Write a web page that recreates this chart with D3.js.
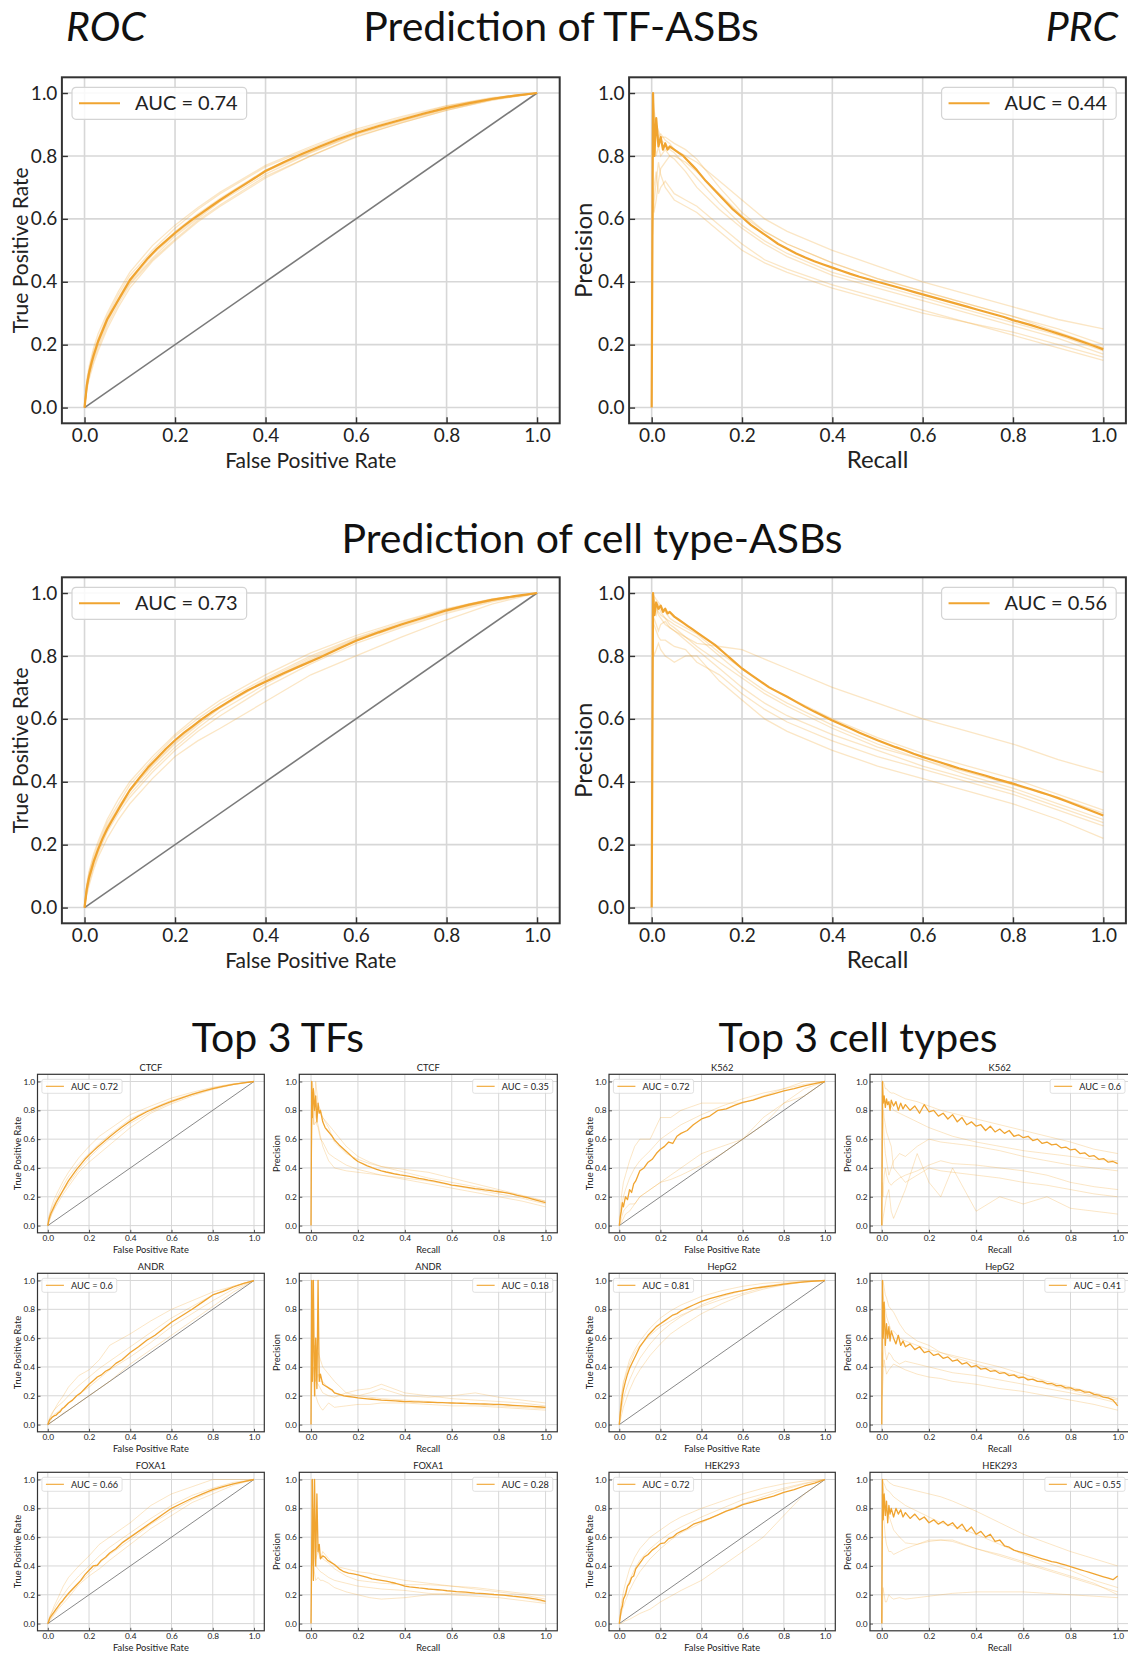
<!DOCTYPE html>
<html>
<head>
<meta charset="utf-8">
<script src="https://cdnjs.cloudflare.com/ajax/libs/d3/7.8.5/d3.min.js"></script>
<style>
  body { margin: 0; background: #fff; }
  svg { display: block; font-family: Lato, "Open Sans", sans-serif; }
</style>
</head>
<body>
<div id="chart"></div>
<script>
// ROC / PRC curves: mean curve (bold) + a few individual folds (faint)

// x grids the curves were read at
const rocGrid = [0, .005, .01, .02, .03, .05, .075, .1, .15, .2, .25, .3, .4, .5, .6, .7, .8, .9, 1];
const rocFine = [0, .005, .01, .015, .02, .03, .04, .05, .06, .07, .08, .1, .12, .14, .16, .18, .2, .22, .24, .26, .28, .3, .33, .36, .4, .44, .48, .52, .56, .6, .65, .7, .75, .8, .85, .9, .95, 1];
const prGrid = [0, .002, .005, .01, .015, .02, .03, .04, .05, .075, .1, .15, .2, .25, .3, .4, .5, .6, .7, .8, .9, 1];
const prFine = [0, .003, .006, .01, .015, .02, .025, .03, .035, .04, .05, .06, .07, .08, .09, .1, .12, .14, .16, .18, .2, .22, .24, .26, .28, .3, .32, .34, .36, .38, .4, .42, .44, .46, .48, .5, .52, .54, .56, .58, .6, .62, .64, .66, .68, .7, .72, .74, .76, .78, .8, .82, .84, .86, .88, .9, .92, .94, .96, .98, 1];

const axisTicks = [0, 0.2, 0.4, 0.6, 0.8, 1.0];

// --- Prediction of TF-ASBs
const tfRocMean = [0, .07, .11, .14, .165, .21, .245, .28, .305, .33, .355, .405, .44, .475, .505, .53, .555, .578, .6, .62, .64, .66, .688, .715, .752, .78, .806, .83, .853, .873, .895, .915, .935, .953, .968, .981, .992, 1];
const tfRocFolds = [
  [0, .08, .12, .18, .22, .29, .36, .42, .5, .57, .63, .68, .765, .825, .88, .92, .958, .984, 1],
  [0, .06, .1, .15, .19, .26, .33, .39, .47, .535, .595, .645, .735, .8, .86, .905, .945, .978, 1],
  [0, .075, .115, .17, .215, .285, .35, .41, .49, .56, .615, .665, .755, .815, .872, .915, .952, .982, 1],
  [0, .065, .105, .16, .2, .27, .34, .395, .475, .545, .6, .655, .742, .81, .868, .91, .95, .98, 1],
  [0, .09, .13, .19, .235, .3, .37, .43, .515, .58, .635, .685, .77, .83, .885, .925, .96, .985, 1],
  [0, .055, .09, .14, .18, .25, .32, .38, .465, .53, .59, .64, .73, .8, .862, .905, .946, .977, 1],
  [0, .07, .11, .165, .21, .28, .345, .4, .485, .55, .605, .66, .75, .812, .87, .912, .95, .981, 1]
];
const tfPrcMean = [0, 1, .8, .92, .83, .86, .82, .84, .82, .83, .82, .81, .8, .785, .77, .755, .72, .69, .66, .63, .605, .58, .56, .54, .52, .505, .49, .477, .465, .455, .445, .435, .425, .416, .408, .4, .392, .384, .376, .368, .36, .352, .344, .336, .328, .32, .312, .304, .296, .288, .278, .27, .262, .253, .244, .235, .226, .216, .206, .196, .185];
const tfPrcFolds = [
  [null, 1, .9, .88, .86, .87, .85, .84, .82, .8, .78, .72, .66, .6, .56, .5, .45, .4, .36, .32, .28, .25],
  [null, .6, .7, .75, .68, .7, .72, .7, .68, .66, .64, .58, .52, .47, .44, .39, .35, .31, .27, .24, .2, .16],
  [null, .8, .85, .8, .83, .8, .82, .8, .8, .78, .75, .68, .61, .56, .52, .46, .41, .37, .33, .29, .24, .19],
  [null, 1, .95, .9, .86, .85, .84, .82, .81, .77, .73, .65, .58, .53, .49, .43, .39, .35, .31, .27, .23, .18],
  [null, .7, .62, .66, .72, .76, .78, .8, .79, .75, .7, .63, .57, .52, .48, .42, .38, .34, .3, .26, .22, .17],
  [null, .55, .65, .72, .78, .74, .7, .68, .66, .64, .62, .56, .5, .46, .43, .38, .34, .3, .27, .23, .19, .15],
  [null, 1, .92, .9, .88, .86, .86, .85, .84, .82, .79, .7, .62, .56, .52, .46, .41, .37, .33, .29, .25, .2]
];

// --- Prediction of cell type-ASBs
const cellRocMean = [0, .06, .095, .12, .145, .185, .22, .25, .275, .3, .325, .373, .41, .445, .475, .505, .532, .556, .578, .6, .62, .638, .665, .69, .718, .745, .77, .795, .822, .848, .875, .9, .922, .945, .963, .978, .99, 1];
const cellRocFolds = [
  [0, .07, .11, .16, .2, .27, .33, .39, .47, .545, .6, .65, .73, .8, .858, .905, .948, .98, 1],
  [0, .05, .08, .13, .17, .24, .3, .35, .43, .5, .56, .61, .7, .775, .84, .89, .935, .972, 1],
  [0, .04, .07, .12, .16, .22, .28, .33, .41, .48, .53, .57, .655, .74, .8, .86, .915, .965, 1],
  [0, .065, .1, .15, .19, .26, .32, .375, .455, .525, .585, .64, .725, .795, .855, .9, .945, .978, 1],
  [0, .075, .115, .17, .21, .28, .345, .4, .48, .55, .61, .66, .74, .81, .865, .91, .95, .981, 1],
  [0, .055, .09, .14, .18, .25, .31, .36, .44, .51, .57, .625, .71, .785, .848, .895, .94, .975, 1],
  [0, .06, .095, .145, .185, .255, .315, .37, .45, .52, .58, .635, .72, .79, .852, .9, .944, .977, 1]
];
const cellPrcMean = [0, 1, .93, .97, .95, .96, .94, .95, .935, .94, .925, .915, .905, .895, .885, .875, .855, .835, .81, .785, .76, .74, .72, .70, .685, .67, .654, .638, .623, .609, .595, .582, .569, .556, .544, .532, .521, .51, .5, .489, .479, .47, .461, .452, .443, .435, .427, .419, .41, .402, .394, .385, .376, .367, .358, .348, .337, .326, .315, .304, .293];
const cellPrcFolds = [
  [null, 1, .97, .95, .93, .92, .9, .89, .88, .86, .84, .83, .82, .79, .76, .7, .65, .6, .56, .52, .47, .43],
  [null, .85, .8, .82, .84, .82, .8, .79, .78, .8, .8, .72, .66, .6, .56, .5, .45, .41, .37, .33, .28, .22],
  [null, 1, .98, .96, .94, .93, .92, .91, .9, .88, .86, .8, .74, .69, .65, .58, .52, .47, .43, .39, .35, .3],
  [null, .9, .92, .9, .88, .9, .91, .89, .88, .85, .82, .76, .7, .65, .61, .55, .5, .45, .41, .37, .32, .27],
  [null, 1, .95, .93, .96, .94, .92, .9, .89, .86, .83, .78, .73, .68, .64, .57, .51, .47, .42, .38, .33, .28],
  [null, .95, .9, .88, .86, .85, .85, .84, .83, .82, .78, .74, .68, .63, .59, .53, .48, .44, .4, .36, .31, .26],
  [null, 1, .99, .98, .97, .96, .94, .92, .91, .89, .87, .81, .76, .71, .67, .6, .54, .49, .45, .41, .36, .31]
];

// --- Top 3 TFs
const ctcfRocMean = [0, .04, .065, .085, .1, .13, .16, .185, .21, .235, .26, .31, .35, .39, .425, .46, .49, .517, .543, .568, .593, .617, .651, .684, .725, .76, .79, .815, .84, .862, .887, .91, .932, .95, .966, .98, .991, 1];
const ctcfRocFolds = [
  [0, .06, .09, .14, .18, .24, .31, .37, .47, .55, .62, .67, .77, .83, .885, .925, .96, .985, 1],
  [0, .03, .05, .08, .11, .16, .22, .27, .37, .44, .5, .56, .68, .78, .845, .9, .945, .978, 1],
  [0, .05, .08, .12, .15, .21, .28, .34, .43, .5, .57, .63, .74, .81, .87, .915, .955, .982, 1],
  [0, .02, .04, .09, .12, .18, .24, .29, .39, .47, .54, .6, .71, .79, .855, .91, .95, .98, 1]
];
const ctcfPrcMean = [0, 1, .75, .95, .8, .9, .72, .85, .78, .8, .72, .68, .66, .64, .62, .595, .56, .53, .5, .47, .445, .43, .415, .402, .39, .38, .372, .365, .358, .352, .347, .341, .335, .328, .322, .315, .31, .304, .297, .289, .281, .277, .272, .267, .262, .257, .253, .248, .244, .239, .235, .23, .225, .218, .21, .203, .195, .186, .177, .168, .16];
const ctcfPrcFolds = [
  [null, 1, .9, .7, .8, 1, .85, .8, .75, .68, .58, .5, .46, .43, .41, .39, .37, .33, .29, .25, .21, .17],
  [null, .5, .7, .9, .85, .75, .7, .62, .55, .45, .4, .38, .37, .36, .35, .33, .31, .28, .25, .22, .19, .15],
  [null, 1, 1, .95, .9, .85, .8, .78, .75, .7, .65, .55, .48, .44, .41, .37, .33, .3, .27, .24, .2, .17],
  [null, .8, .9, .75, .7, .72, .68, .6, .58, .5, .47, .42, .39, .37, .35, .32, .29, .26, .23, .2, .17, .13]
];
const andrRocMean = [0, .02, .035, .04, .05, .06, .065, .08, .09, .11, .12, .15, .17, .2, .22, .25, .28, .305, .33, .345, .37, .385, .425, .45, .5, .54, .585, .62, .665, .71, .755, .8, .85, .9, .925, .955, .98, 1];
const andrRocFolds = [
  [0, .02, .04, .07, .1, .15, .2, .26, .34, .38, .45, .55, .63, .72, .8, .86, .92, .96, 1],
  [0, 0, .01, .02, .03, .05, .08, .1, .15, .2, .25, .3, .42, .52, .62, .72, .82, .92, 1],
  [0, .03, .05, .08, .1, .13, .16, .2, .27, .33, .39, .44, .54, .64, .74, .82, .9, .96, 1],
  [0, .01, .02, .05, .07, .09, .12, .15, .21, .26, .32, .38, .47, .57, .68, .77, .86, .94, 1]
];
const andrPrcMean = [0, 1, .3, 1, .2, .6, .25, 1, .3, .35, .28, .27, .26, .25, .24, .22, .21, .2, .195, .19, .185, .182, .179, .176, .173, .17, .168, .166, .164, .162, .16, .159, .158, .157, .156, .155, .154, .153, .152, .151, .15, .149, .148, .147, .146, .145, .144, .143, .142, .141, .14, .138, .136, .134, .132, .13, .128, .126, .124, .122, .12];
const andrPrcFolds = [
  [null, .5, 1, .6, .4, .3, .35, .3, .3, .25, .22, .2, .2, .22, .25, .2, .19, .2, .22, .19, .17, .15],
  [null, 1, .7, .5, .55, .4, .5, .45, .4, .35, .3, .22, .2, .19, .18, .17, .16, .15, .14, .13, .12, .11],
  [null, .2, .3, .4, .25, .2, .15, .12, .1, .15, .12, .13, .14, .14, .15, .15, .14, .13, .13, .12, .11, .1],
  [null, 1, .5, .65, .35, .3, .28, .25, .22, .2, .19, .22, .24, .25, .28, .22, .2, .18, .17, .16, .15, .13]
];
const foxa1RocMean = [0, .02, .04, .05, .06, .08, .1, .12, .14, .155, .175, .21, .24, .27, .3, .34, .37, .4, .405, .44, .46, .49, .52, .56, .6, .64, .68, .72, .76, .8, .835, .87, .9, .93, .95, .97, .985, 1];
const foxa1RocFolds = [
  [0, .02, .05, .08, .12, .18, .26, .32, .4, .47, .55, .6, .7, .82, .9, .95, 1, 1, 1],
  [0, .01, .02, .04, .06, .1, .14, .18, .27, .33, .38, .44, .55, .66, .75, .84, .9, .96, 1],
  [0, .03, .05, .08, .1, .15, .2, .25, .33, .4, .47, .53, .63, .73, .82, .89, .94, .98, 1],
  [0, .01, .03, .05, .07, .11, .16, .2, .28, .35, .42, .48, .58, .69, .78, .86, .92, .97, 1]
];
const foxa1PrcMean = [0, .5, 1, .3, 1, .4, .9, .5, .55, .45, .47, .46, .44, .43, .42, .41, .38, .36, .35, .345, .338, .33, .32, .31, .305, .3, .295, .287, .28, .27, .26, .255, .252, .248, .245, .24, .238, .235, .232, .228, .225, .222, .22, .218, .215, .212, .21, .208, .205, .202, .2, .197, .194, .19, .187, .184, .18, .175, .17, .163, .155];
const foxa1PrcFolds = [
  [null, 1, .6, .8, .5, .45, .5, .45, .5, .45, .4, .38, .36, .35, .33, .3, .28, .26, .25, .23, .21, .19],
  [null, .3, .6, .4, .35, .3, .32, .3, .3, .28, .25, .22, .2, .18, .17, .18, .2, .21, .21, .2, .18, .15],
  [null, 1, .9, .7, .6, .55, .5, .48, .45, .42, .38, .33, .3, .29, .28, .27, .27, .26, .24, .22, .2, .17],
  [null, .6, .4, .5, .45, .4, .38, .36, .35, .32, .3, .28, .26, .25, .24, .23, .21, .2, .19, .18, .16, .14]
];

// --- Top 3 cell types
const k562RocMean = [0, .06, .1, .16, .13, .2, .18, .25, .23, .29, .31, .38, .4, .44, .46, .5, .53, .55, .58, .57, .62, .64, .66, .7, .74, .76, .8, .81, .835, .855, .87, .895, .915, .935, .95, .97, .985, 1];
const k562RocFolds = [
  [0, .1, .2, .3, .35, .45, .55, .6, .6, .75, .75, .8, .85, .85, .85, .9, .95, 1, 1],
  [0, .02, .05, .1, .12, .15, .15, .2, .25, .3, .35, .4, .5, .55, .6, .7, .85, .95, 1],
  [0, .08, .12, .2, .25, .33, .4, .45, .52, .6, .65, .7, .77, .83, .88, .92, .95, .98, 1],
  [0, .01, .02, .05, .08, .1, .15, .2, .25, .3, .32, .35, .42, .5, .6, .75, .85, .9, 1]
];
const k562PrcMean = [0, 1, .85, .9, .82, .88, .84, .86, .8, .87, .83, .86, .8, .85, .81, .84, .8, .83, .78, .84, .79, .8, .76, .78, .74, .77, .72, .75, .7, .72, .69, .7, .66, .69, .65, .67, .64, .66, .62, .63, .61, .62, .59, .6, .57, .58, .56, .565, .54, .545, .525, .53, .5, .505, .48, .485, .46, .465, .44, .445, .43];
const k562PrcFolds = [
  [null, 1, 1, .98, .95, .95, .93, .92, .92, .9, .88, .86, .83, .8, .78, .74, .7, .66, .62, .58, .53, .5],
  [null, .4, .8, .6, .5, .45, .35, .4, .45, .5, .48, .55, .6, .58, .57, .55, .52, .48, .45, .42, .4, .38],
  [null, 0, .05, .1, .15, .2, .25, .1, .05, .15, .25, .5, .3, .2, .4, .1, .2, .15, .2, .12, .1, .08],
  [null, .9, .85, .75, .7, .65, .6, .55, .4, .35, .3, .35, .4, .38, .37, .35, .33, .3, .28, .25, .22, .2],
  [null, 1, .9, .88, .86, .85, .84, .83, .8, .78, .76, .72, .68, .65, .62, .58, .55, .52, .5, .48, .46, .45],
  [null, .3, .2, .35, .4, .35, .3, .28, .3, .33, .35, .38, .42, .45, .43, .42, .4, .38, .35, .3, .27, .25]
];
const hepg2RocMean = [0, .08, .14, .2, .24, .3, .35, .39, .42, .45, .48, .54, .58, .62, .65, .68, .7, .72, .74, .76, .77, .79, .81, .83, .855, .875, .89, .905, .92, .93, .945, .955, .965, .975, .983, .99, .995, 1];
const hepg2RocFolds = [
  [0, .1, .18, .28, .35, .45, .52, .58, .67, .74, .79, .83, .89, .93, .96, .98, .99, 1, 1],
  [0, .03, .06, .12, .16, .24, .32, .38, .48, .56, .63, .68, .77, .84, .9, .94, .97, .99, 1],
  [0, .06, .1, .18, .23, .31, .39, .46, .56, .64, .7, .75, .83, .89, .93, .96, .98, .995, 1],
  [0, .12, .2, .3, .33, .42, .5, .55, .62, .68, .72, .76, .82, .87, .91, .95, .97, .99, 1]
];
const hepg2PrcMean = [0, 1, .6, .85, .55, .7, .6, .68, .58, .65, .6, .56, .62, .55, .58, .54, .56, .52, .54, .5, .51, .48, .49, .46, .47, .44, .45, .42, .43, .4, .41, .385, .39, .37, .375, .355, .36, .34, .345, .325, .33, .31, .315, .3, .3, .285, .285, .27, .27, .255, .255, .24, .24, .225, .225, .21, .205, .19, .185, .17, .13];
const hepg2PrcFolds = [
  [null, 1, .9, .85, .8, .75, .7, .65, .65, .6, .58, .55, .52, .5, .48, .44, .4, .35, .3, .26, .22, .18],
  [null, .5, .4, .6, .5, .45, .5, .48, .45, .42, .44, .42, .4, .38, .36, .34, .31, .28, .25, .22, .19, .15],
  [null, 1, 1, .95, .9, .88, .82, .8, .78, .7, .64, .58, .55, .5, .47, .42, .37, .33, .28, .24, .2, .17],
  [null, .2, .3, .45, .4, .35, .38, .4, .42, .4, .38, .35, .33, .32, .3, .28, .25, .23, .2, .17, .14, .1]
];
const hek293RocMean = [0, .05, .1, .12, .17, .2, .26, .28, .32, .33, .38, .42, .46, .48, .51, .53, .555, .56, .59, .6, .625, .64, .66, .69, .71, .73, .755, .78, .8, .825, .845, .865, .885, .91, .93, .955, .975, 1];
const hek293RocFolds = [
  [0, .08, .14, .22, .28, .38, .46, .52, .6, .65, .7, .74, .8, .85, .9, .94, .97, .99, 1],
  [0, 0, 0, .01, .02, .03, .05, .07, .1, .15, .19, .23, .3, .4, .5, .6, .75, .9, 1],
  [0, .04, .07, .12, .16, .23, .3, .36, .45, .52, .58, .63, .7, .77, .83, .88, .93, .97, 1],
  [0, .06, .1, .17, .22, .3, .38, .44, .52, .58, .63, .67, .74, .8, .86, .9, .94, .975, 1]
];
const hek293PrcMean = [0, 1, .72, .9, .75, .85, .7, .82, .76, .8, .74, .8, .76, .79, .74, .77, .73, .76, .72, .74, .7, .72, .69, .71, .68, .7, .66, .69, .64, .67, .62, .64, .6, .62, .57, .58, .54, .53, .51, .5, .49, .48, .47, .46, .45, .44, .43, .425, .415, .405, .395, .385, .375, .365, .355, .345, .335, .325, .315, .305, .33];
const hek293PrcFolds = [
  [null, 1, 1, 1, 1, 1, .98, .97, .96, .95, .94, .92, .9, .88, .85, .78, .7, .62, .56, .5, .45, .4],
  [null, 0, .25, .2, .15, .15, .2, .18, .17, .18, .17, .18, .19, .2, .21, .22, .22, .22, .21, .2, .19, .18],
  [null, 1, .95, .9, .85, .8, .75, .7, .65, .6, .56, .55, .57, .58, .58, .52, .47, .42, .37, .32, .27, .22],
  [null, 1, .98, .97, .95, .93, .92, .9, .88, .85, .82, .78, .74, .7, .68, .62, .55, .48, .42, .37, .3, .25],
  [null, .9, .8, .7, .6, .55, .5, .5, .48, .5, .52, .55, .58, .58, .57, .52, .48, .43, .38, .33, .28, .2]
];

const smallNames = ["CTCF", "ANDR", "FOXA1", "K562", "HepG2", "HEK293"];
const smallRocAuc = ["0.72", "0.6", "0.66", "0.72", "0.81", "0.72"];
const smallPrcAuc = ["0.35", "0.18", "0.28", "0.6", "0.41", "0.55"];

// ---------------------------------------------------------------
const W = 1128, H = 1653;
const orange = "#f0a430";

const svg = d3.select("#chart").append("svg")
    .attr("width", W)
    .attr("height", H);

function drawPanel(p) {
    const big = p.big;
    const [l, t, r, b] = p.box;
    const x = d3.scaleLinear().domain([-0.05, 1.05]).range([l, r]);
    const y = d3.scaleLinear().domain([-0.05, 1.05]).range([b, t]);
    const g = svg.append("g");

    // grid
    g.selectAll(".gx").data(axisTicks).join("line")
        .attr("x1", d => x(d)).attr("x2", d => x(d))
        .attr("y1", t).attr("y2", b)
        .attr("stroke", "#d7d7d7").attr("stroke-width", big ? 1.6 : 1);
    g.selectAll(".gy").data(axisTicks).join("line")
        .attr("x1", l).attr("x2", r)
        .attr("y1", d => y(d)).attr("y2", d => y(d))
        .attr("stroke", "#d7d7d7").attr("stroke-width", big ? 1.6 : 1);

    // chance diagonal for ROC
    if (p.kind === "roc") {
        g.append("line")
            .attr("x1", x(0)).attr("y1", y(0))
            .attr("x2", x(1)).attr("y2", y(1))
            .attr("stroke", "#7a7a7a").attr("stroke-width", big ? 1.6 : 0.9);
    }

    const foldGrid = p.kind === "roc" ? rocGrid : prGrid;
    const meanGrid = p.kind === "roc" ? rocFine : prFine;

    const line = d3.line()
        .defined(d => d[1] !== null)
        .x(d => x(d[0]))
        .y(d => y(d[1]));

    // individual folds
    p.folds.forEach(f => {
        g.append("path")
            .attr("d", line(foldGrid.map((v, i) => [v, f[i]])))
            .attr("fill", "none")
            .attr("stroke", orange)
            .attr("stroke-opacity", big ? 0.28 : 0.35)
            .attr("stroke-width", big ? 1.3 : 0.8);
    });

    // mean curve
    g.append("path")
        .attr("d", line(meanGrid.map((v, i) => [v, p.mean[i]])))
        .attr("fill", "none")
        .attr("stroke", orange)
        .attr("stroke-width", big ? 2.2 : 1.3)
        .attr("stroke-linejoin", "round");

    // axes (ticks point inward)
    const tickFont = big ? 19 : 8.3;
    const xAxis = g.append("g")
        .attr("transform", `translate(0,${b})`)
        .call(d3.axisBottom(x).tickValues(axisTicks).tickFormat(d3.format(".1f"))
            .tickSize(big ? -6 : -3).tickPadding(big ? 4.9 : 2));
    const yAxis = g.append("g")
        .attr("transform", `translate(${l},0)`)
        .call(d3.axisLeft(y).tickValues(axisTicks).tickFormat(d3.format(".1f"))
            .tickSize(big ? -6 : -3).tickPadding(big ? 4.5 : 2.5));
    [xAxis, yAxis].forEach(a => {
        a.select(".domain").remove();
        a.attr("font-family", null).attr("font-size", tickFont);
        a.selectAll("text").attr("fill", "#222");
        a.selectAll("line").attr("stroke", "#333").attr("stroke-width", big ? 1.4 : 0.8);
    });

    // frame
    g.append("rect")
        .attr("x", l).attr("y", t)
        .attr("width", r - l).attr("height", b - t)
        .attr("fill", "none")
        .attr("stroke", "#333")
        .attr("stroke-width", big ? 2 : 1.2);

    // axis labels
    const xLab = p.kind === "roc" ? "False Positive Rate" : "Recall";
    const yLab = p.kind === "roc" ? "True Positive Rate" : "Precision";
    const labFont = big ? (p.kind === "roc" ? 21 : 24) : 9.3;
    g.append("text")
        .attr("x", (l + r) / 2)
        .attr("y", big ? b + 44.5 : b + 20.3)
        .attr("text-anchor", "middle")
        .attr("font-size", labFont)
        .attr("fill", "#222")
        .text(xLab);
    const yx = big ? (p.kind === "roc" ? l - 34 : l - 37) : (p.kind === "roc" ? l - 16.5 : l - 19);
    g.append("text")
        .attr("transform", `translate(${yx},${(t + b) / 2}) rotate(-90)`)
        .attr("text-anchor", "middle")
        .attr("font-size", labFont)
        .attr("fill", "#222")
        .text(yLab);

    // small panel title
    if (p.title) {
        g.append("text")
            .attr("x", (l + r) / 2)
            .attr("y", t - 3.6)
            .attr("text-anchor", "middle")
            .attr("font-size", 9.3)
            .attr("fill", "#222")
            .text(p.title);
    }

    // legend
    const lg = g.append("g");
    const legFont = big ? 20 : 9.2;
    const legH = big ? 32 : 14;
    const lineL = big ? [7, 48] : [4, 22];
    const textX = big ? 63 : 29;
    const padR = big ? 9 : 4;
    const rect = lg.append("rect")
        .attr("height", legH).attr("rx", big ? 4 : 2)
        .attr("fill", "#fff").attr("fill-opacity", 0.85)
        .attr("stroke", "#d4d4d4").attr("stroke-width", big ? 1.2 : 0.7);
    lg.append("line")
        .attr("x1", lineL[0]).attr("x2", lineL[1])
        .attr("y1", legH / 2).attr("y2", legH / 2)
        .attr("stroke", orange).attr("stroke-width", big ? 2 : 1.1);
    const lt = lg.append("text")
        .attr("x", textX)
        .attr("y", legH / 2)
        .attr("dy", "0.36em")
        .attr("font-size", legFont)
        .attr("fill", "#222")
        .text("AUC = " + p.auc);
    const legW = textX + lt.node().getComputedTextLength() + padR;
    rect.attr("width", legW);
    const gapL = big ? 10.1 : 4.4;
    const gapT = big ? 10 : 5;
    const gapR = big ? 9.7 : 4.5;
    const lx = p.kind === "roc" ? l + gapL : r - gapR - legW;
    lg.attr("transform", `translate(${lx},${t + gapT})`);
}

// big panels
drawPanel({ box: [61.9, 77.3, 559.7, 423.3], big: true, kind: "roc", auc: "0.74", mean: tfRocMean, folds: tfRocFolds });
drawPanel({ box: [629.1, 77.3, 1125.9, 423.3], big: true, kind: "prc", auc: "0.44", mean: tfPrcMean, folds: tfPrcFolds });
drawPanel({ box: [61.9, 577.3, 559.7, 923.3], big: true, kind: "roc", auc: "0.73", mean: cellRocMean, folds: cellRocFolds });
drawPanel({ box: [629.1, 577.3, 1125.9, 923.3], big: true, kind: "prc", auc: "0.56", mean: cellPrcMean, folds: cellPrcFolds });

// small panels
const rowTops = [1074.3, 1273.3, 1472.3];
const rowH = 158.5;
const colRoc = [[37.5, 264.3], [609, 835.3]];
const colPrc = [[299.3, 557.3], [870, 1129.5]];
const smallRocMeans = [ctcfRocMean, andrRocMean, foxa1RocMean, k562RocMean, hepg2RocMean, hek293RocMean];
const smallRocFolds = [ctcfRocFolds, andrRocFolds, foxa1RocFolds, k562RocFolds, hepg2RocFolds, hek293RocFolds];
const smallPrcMeans = [ctcfPrcMean, andrPrcMean, foxa1PrcMean, k562PrcMean, hepg2PrcMean, hek293PrcMean];
const smallPrcFolds = [ctcfPrcFolds, andrPrcFolds, foxa1PrcFolds, k562PrcFolds, hepg2PrcFolds, hek293PrcFolds];

smallNames.forEach((name, i) => {
    const side = i < 3 ? 0 : 1;
    const t = rowTops[i % 3];
    drawPanel({ box: [colRoc[side][0], t, colRoc[side][1], t + rowH], big: false, kind: "roc",
        title: name, auc: smallRocAuc[i], mean: smallRocMeans[i], folds: smallRocFolds[i] });
    drawPanel({ box: [colPrc[side][0], t, colPrc[side][1], t + rowH], big: false, kind: "prc",
        title: name, auc: smallPrcAuc[i], mean: smallPrcMeans[i], folds: smallPrcFolds[i] });
});

// headings
const heads = [
    { text: "ROC", x: 66, y: 40.5, anchor: "start", italic: true },
    { text: "Prediction of TF-ASBs", x: 561, y: 40.5, anchor: "middle" },
    { text: "PRC", x: 1118, y: 40.5, anchor: "end", italic: true },
    { text: "Prediction of cell type-ASBs", x: 592, y: 553.3, anchor: "middle" },
    { text: "Top 3 TFs", x: 278, y: 1051.5, anchor: "middle" },
    { text: "Top 3 cell types", x: 858, y: 1051.5, anchor: "middle" }
];
svg.selectAll(".head").data(heads).join("text")
    .attr("x", d => d.x)
    .attr("y", d => d.y)
    .attr("text-anchor", d => d.anchor)
    .attr("font-size", 41)
    .attr("font-style", d => d.italic ? "italic" : "normal")
    .attr("fill", "#111")
    .text(d => d.text);
</script>
</body>
</html>
